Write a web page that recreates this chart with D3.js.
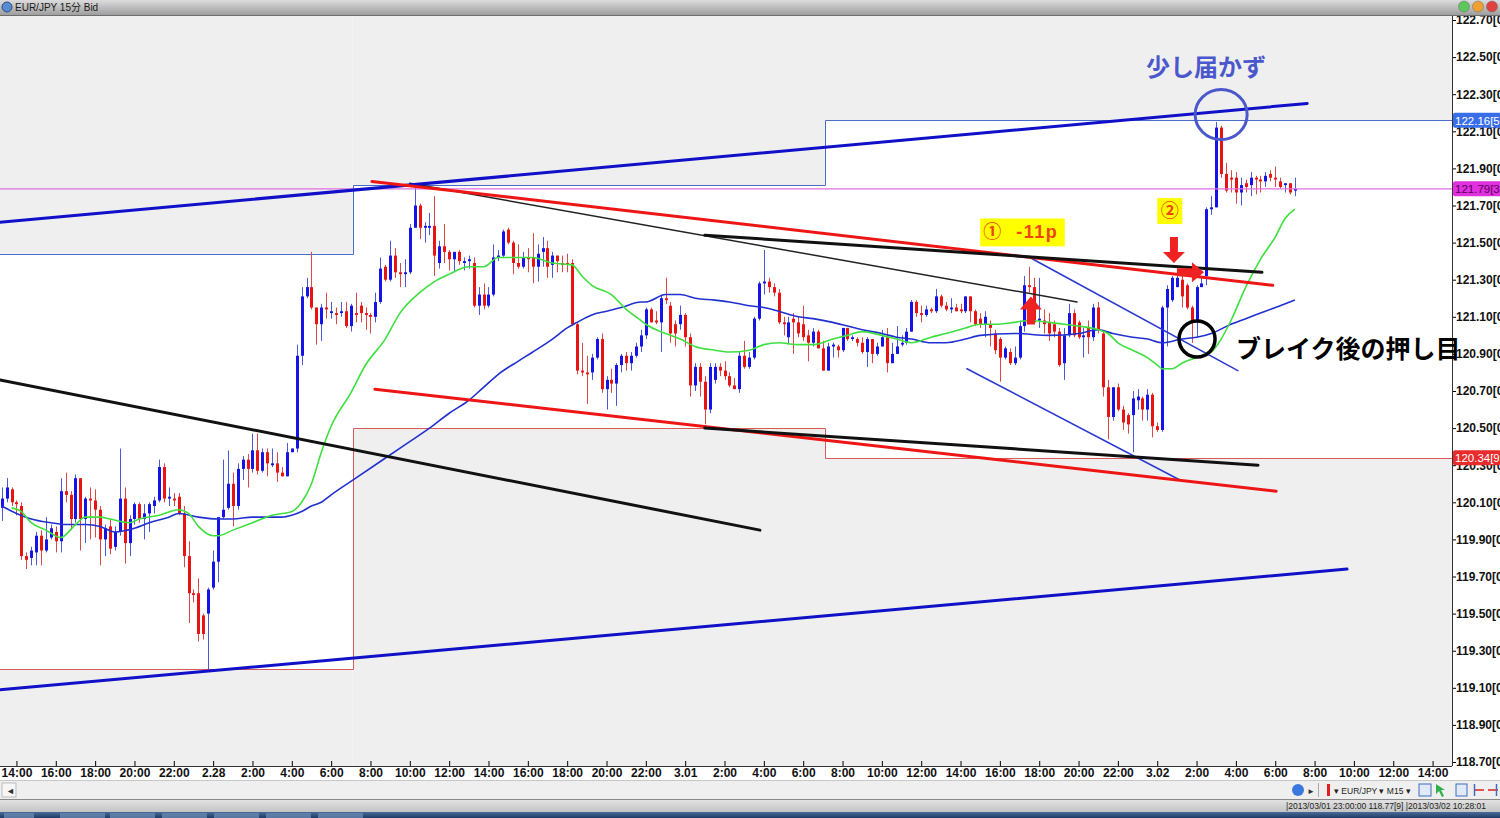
<!DOCTYPE html>
<html><head><meta charset="utf-8">
<script src="https://cdn.jsdelivr.net/npm/d3@7"></script>
<style>html,body{margin:0;padding:0;background:#fff;overflow:hidden}</style>
</head><body><svg id="c" width="1500" height="818"></svg>
<script>
// ---------------- DATA ----------------
// 15-minute bars, EUR/JPY, first bar = 2/27 13:15; each row = [open, high, low, close]
const ohlc = [
[120.07,120.18,120.00,120.12],[120.12,120.23,120.10,120.18],[120.17,120.18,120.08,120.10],[120.10,120.11,120.03,120.09],
[120.08,120.10,119.79,119.81],[119.81,119.83,119.74,119.79],[119.80,119.86,119.76,119.84],[119.83,119.94,119.76,119.92],
[119.92,119.95,119.76,119.84],[119.84,120.02,119.83,119.90],[119.91,119.98,119.90,119.96],[119.94,119.97,119.83,119.89],
[119.89,120.23,119.83,120.16],[120.16,120.26,120.10,120.14],[120.14,120.16,119.95,120.01],[120.01,120.25,119.99,120.23],
[120.23,120.23,119.84,120.01],[120.01,120.13,119.88,120.12],[120.12,120.18,119.90,120.11],[120.11,120.17,119.91,120.06],
[120.06,120.08,119.76,119.90],[119.90,119.98,119.81,119.96],[119.97,120.01,119.82,119.85],[119.86,119.97,119.84,119.94],
[119.94,120.39,119.92,120.12],[120.12,120.18,119.77,119.88],[119.88,120.03,119.81,120.01],[120.01,120.10,119.98,120.09],
[120.09,120.10,119.99,120.01],[120.01,120.09,119.90,120.04],[120.04,120.10,119.94,120.09],[120.08,120.13,120.04,120.11],
[120.11,120.33,120.10,120.29],[120.29,120.31,120.10,120.12],[120.12,120.18,120.08,120.13],[120.12,120.15,120.08,120.11],
[120.13,120.15,120.03,120.04],[120.04,120.08,119.75,119.81],[119.81,119.89,119.45,119.61],[119.61,119.63,119.56,119.60],
[119.61,119.69,119.35,119.39],[119.49,119.50,119.36,119.39],[119.50,119.64,119.20,119.63],[119.64,119.84,119.63,119.78],
[119.78,120.02,119.67,120.02],[120.02,120.33,120.01,120.06],[120.07,120.38,120.06,120.20],[120.20,120.26,119.97,120.08],
[120.08,120.31,120.06,120.28],[120.28,120.35,120.22,120.33],[120.33,120.36,120.18,120.28],[120.28,120.47,120.26,120.38],
[120.38,120.47,120.25,120.27],[120.27,120.39,120.26,120.37],[120.37,120.39,120.24,120.31],[120.30,120.39,120.29,120.31],
[120.31,120.37,120.21,120.26],[120.26,120.29,120.24,120.24],[120.24,120.42,120.24,120.37],[120.37,120.39,120.37,120.39],
[120.39,120.95,120.37,120.89],[120.89,121.26,120.84,121.21],[121.21,121.31,121.20,121.26],[121.26,121.45,121.14,121.15],
[121.15,121.15,120.95,121.06],[121.06,121.17,120.97,121.15],[121.15,121.23,121.09,121.14],[121.12,121.18,121.09,121.13],
[121.12,121.15,121.06,121.11],[121.12,121.18,121.10,121.13],[121.13,121.18,121.04,121.05],[121.05,121.17,121.02,121.16],
[121.12,121.23,121.07,121.11],[121.16,121.18,121.07,121.12],[121.12,121.15,121.03,121.11],[121.11,121.12,121.01,121.10],
[121.10,121.23,121.07,121.18],[121.18,121.42,121.17,121.36],[121.37,121.38,121.29,121.30],[121.30,121.51,121.29,121.43],
[121.43,121.47,121.31,121.34],[121.34,121.39,121.26,121.33],[121.33,121.41,121.26,121.34],[121.34,121.60,121.33,121.58],
[121.58,121.80,121.58,121.70],[121.70,121.71,121.52,121.58],[121.58,121.61,121.50,121.59],[121.58,121.66,121.54,121.59],
[121.59,121.75,121.32,121.43],[121.39,121.51,121.36,121.48],[121.48,121.60,121.39,121.45],[121.45,121.46,121.35,121.41],
[121.41,121.45,121.34,121.45],[121.45,121.46,121.38,121.40],[121.39,121.42,121.35,121.40],[121.40,121.43,121.36,121.41],
[121.39,121.42,121.15,121.16],[121.16,121.26,121.11,121.22],[121.22,121.28,121.14,121.16],[121.16,121.26,121.15,121.22],
[121.22,121.49,121.21,121.42],[121.42,121.46,121.40,121.43],[121.43,121.57,121.42,121.56],[121.57,121.58,121.49,121.50],
[121.50,121.51,121.33,121.39],[121.39,121.49,121.36,121.37],[121.37,121.45,121.36,121.42],[121.42,121.47,121.34,121.41],
[121.42,121.55,121.28,121.37],[121.37,121.49,121.29,121.44],[121.45,121.53,121.37,121.47],[121.47,121.51,121.31,121.37],
[121.38,121.45,121.31,121.43],[121.43,121.43,121.34,121.40],[121.39,121.43,121.34,121.38],[121.39,121.44,121.34,121.38],
[121.39,121.41,121.05,121.06],[121.06,121.07,120.79,120.81],[120.81,120.96,120.78,120.80],[120.80,120.89,120.63,120.79],
[120.80,120.90,120.76,120.88],[120.88,120.99,120.87,120.98],[120.98,121.01,120.69,120.71],[120.71,120.78,120.60,120.76],
[120.76,120.82,120.69,120.74],[120.74,120.85,120.62,120.84],[120.84,120.90,120.80,120.89],[120.89,120.91,120.81,120.85],
[120.85,120.91,120.81,120.89],[120.89,120.96,120.88,120.94],[120.94,121.03,120.91,121.00],[121.00,121.15,120.98,121.14],
[121.14,121.15,121.07,121.07],[121.08,121.13,121.06,121.07],[121.07,121.22,120.91,121.20],[121.20,121.31,121.17,121.19],
[121.16,121.18,120.96,121.01],[121.06,121.08,120.94,121.01],[121.06,121.16,121.03,121.11],[121.11,121.12,120.94,120.99],
[120.99,121.01,120.67,120.73],[120.73,120.85,120.70,120.83],[120.83,120.85,120.67,120.75],[120.75,120.78,120.52,120.60],
[120.60,120.85,120.58,120.83],[120.76,120.85,120.74,120.83],[120.83,120.85,120.78,120.81],[120.81,120.86,120.76,120.78],
[120.78,120.80,120.72,120.73],[120.73,120.77,120.71,120.71],[120.71,120.91,120.69,120.89],[120.89,120.97,120.82,120.83],
[120.83,120.91,120.82,120.88],[120.88,121.10,120.87,121.09],[121.09,121.29,121.08,121.28],[121.28,121.46,121.22,121.29],
[121.29,121.31,121.23,121.26],[121.26,121.28,121.21,121.23],[121.23,121.25,121.06,121.07],[121.07,121.10,121.00,121.06],
[120.99,121.10,120.95,121.07],[121.09,121.12,120.90,121.07],[121.07,121.10,120.99,121.01],[121.06,121.16,120.97,120.99],
[121.00,121.03,120.86,120.96],[120.96,121.04,120.94,121.02],[121.02,121.03,120.93,120.93],[120.93,120.97,120.81,120.81],
[120.81,120.96,120.81,120.94],[120.94,120.96,120.88,120.95],[120.94,120.95,120.88,120.92],[120.92,121.04,120.91,121.04],
[121.04,121.04,120.97,120.98],[120.98,121.00,120.97,120.99],[120.98,120.99,120.94,120.96],[120.96,120.99,120.90,120.91],
[120.91,120.99,120.83,120.98],[120.98,120.98,120.85,120.90],[120.90,120.96,120.89,120.94],[120.94,121.03,120.94,120.99],
[120.99,121.04,120.80,120.85],[120.85,120.96,120.85,120.90],[120.90,121.05,120.90,120.94],[120.95,121.00,120.94,120.96],
[120.96,121.04,120.95,121.02],[121.02,121.19,121.02,121.18],[121.18,121.19,121.10,121.12],[121.12,121.16,121.07,121.11],
[121.11,121.16,121.10,121.14],[121.14,121.15,121.12,121.13],[121.13,121.25,121.12,121.21],[121.21,121.22,121.15,121.16],
[121.16,121.18,121.13,121.14],[121.14,121.20,121.12,121.15],[121.15,121.17,121.13,121.13],[121.14,121.17,121.12,121.13],
[121.13,121.21,121.12,121.21],[121.21,121.21,121.07,121.13],[121.13,121.14,121.05,121.06],[121.09,121.12,121.04,121.06],
[121.06,121.13,120.99,121.10],[121.06,121.08,120.94,121.04],[121.01,121.03,120.90,120.92],[120.98,120.99,120.75,120.88],
[120.88,120.94,120.87,120.93],[120.91,120.93,120.84,120.85],[120.85,120.94,120.84,120.88],[120.88,121.08,120.87,121.05],
[121.05,121.32,121.02,121.27],[121.27,121.37,121.23,121.26],[121.26,121.31,121.06,121.07],[121.08,121.31,121.04,121.09],
[121.08,121.14,121.01,121.06],[121.07,121.12,120.97,121.01],[121.06,121.08,120.99,121.02],[121.02,121.04,120.83,120.84],
[120.85,121.04,120.76,121.00],[121.00,121.17,120.99,121.12],[121.12,121.14,120.99,121.00],[121.07,121.08,120.98,120.99],
[120.99,121.04,120.88,121.00],[121.04,121.08,120.90,120.99],[120.99,121.17,120.97,121.15],[121.15,121.18,121.01,121.03],
[121.01,121.03,120.67,120.72],[120.72,120.76,120.44,120.56],[120.56,120.72,120.54,120.72],[120.72,120.74,120.59,120.60],
[120.60,120.62,120.49,120.53],[120.57,120.58,120.47,120.52],[120.57,120.70,120.37,120.66],[120.65,120.71,120.60,120.67],
[120.66,120.67,120.54,120.60],[120.60,120.71,120.54,120.68],[120.68,120.69,120.45,120.51],[120.51,120.53,120.48,120.49],
[120.49,121.16,120.48,121.15],[121.15,121.27,120.94,121.25],[121.19,121.32,121.18,121.31],[121.26,121.33,121.26,121.31],
[121.30,121.33,121.15,121.21],[121.27,121.28,121.14,121.15],[121.15,121.16,120.96,121.08],[121.08,121.27,120.99,121.26],
[121.26,121.31,121.26,121.28],[121.32,121.69,121.27,121.68],[121.68,121.75,121.65,121.69],[121.69,122.15,121.69,122.12],
[122.12,122.13,121.85,121.87],[121.87,121.93,121.77,121.78],[121.85,121.89,121.77,121.84],[121.85,121.88,121.71,121.77],
[121.77,121.85,121.70,121.81],[121.82,121.84,121.77,121.80],[121.81,121.88,121.75,121.85],[121.85,121.86,121.76,121.84],
[121.84,121.86,121.77,121.83],[121.83,121.88,121.80,121.86],[121.87,121.89,121.83,121.85],[121.85,121.91,121.80,121.84],
[121.83,121.85,121.79,121.80],[121.81,121.82,121.77,121.82],[121.82,121.82,121.76,121.77],[121.78,121.85,121.75,121.79]
];

// moving averages: [bar index, price]
const maFast = [[2,120.07],[4,120.05],[6,119.99],[9,119.95],[12,119.91],[15,119.98],[17,120.02],[20,120.02],[22,120.01],[26,119.99],[28,120.01],[32,120.03],[36,120.06],[38,120.04],[40,119.97],[43,119.92],[44,119.92],[47,119.95],[51,119.99],[55,120.03],[59,120.05],[61,120.10],[63,120.20],[65,120.37],[67,120.51],[71,120.69],[74,120.84],[78,120.98],[81,121.12],[85,121.23],[88,121.29],[91,121.33],[95,121.37],[98,121.37],[101,121.42],[105,121.42],[108,121.42],[112,121.39],[116,121.38],[118,121.32],[120,121.27],[124,121.22],[127,121.14],[130,121.08],[131,121.06],[135,121.01],[138,120.98],[141,120.94],[145,120.92],[148,120.91],[152,120.92],[155,120.95],[158,120.96],[162,120.95],[165,120.95],[169,120.98],[172,121.00],[175,121.02],[179,121.00],[182,120.98],[185,120.96],[189,120.99],[192,121.01],[196,121.04],[199,121.06],[202,121.06],[206,121.07],[209,121.08],[213,121.07],[216,121.06],[219,121.05],[223,121.03],[225,121.01],[227,120.96],[230,120.92],[233,120.88],[235,120.84],[236,120.82],[238,120.82],[240,120.85],[243,120.88],[246,120.91],[248,120.98],[250,121.08],[253,121.26],[256,121.41],[259,121.53],[261,121.63],[263,121.68]];
const maSlow = [[0,120.08],[3,120.04],[6,120.01],[10,119.99],[13,119.98],[17,119.98],[20,119.97],[23,119.94],[27,119.96],[30,119.99],[34,120.02],[36,120.04],[40,120.02],[44,120.01],[47,120.01],[51,120.02],[54,120.02],[57,120.02],[59,120.03],[61,120.05],[63,120.08],[65,120.10],[67,120.14],[72,120.23],[77,120.32],[82,120.41],[87,120.50],[91,120.58],[95,120.65],[98,120.72],[101,120.79],[105,120.86],[108,120.91],[112,120.98],[115,121.04],[117,121.07],[120,121.11],[123,121.13],[126,121.15],[130,121.18],[131,121.18],[135,121.22],[138,121.22],[141,121.20],[145,121.19],[148,121.18],[152,121.16],[155,121.15],[158,121.13],[162,121.10],[165,121.09],[169,121.07],[172,121.05],[175,121.03],[179,121.01],[182,120.99],[185,120.98],[189,120.96],[192,120.96],[196,120.98],[199,121.00],[206,121.01],[213,121.00],[219,121.01],[223,121.03],[226,121.01],[230,120.99],[233,120.98],[236,120.96],[240,120.98],[243,120.99],[246,121.01],[250,121.06],[253,121.09],[257,121.13],[260,121.16],[263,121.19]];

// x axis: tick every 8 bars (2 hours), starting at bar 3 (2/27 14:00)
const xTickLabels = ["14:00","16:00","18:00","20:00","22:00","2.28","2:00","4:00","6:00","8:00","10:00","12:00","14:00","16:00","18:00","20:00","22:00","3.01","2:00","4:00","6:00","8:00","10:00","12:00","14:00","16:00","18:00","20:00","22:00","3.02","2:00","4:00","6:00","8:00","10:00","12:00","14:00"];
const yTickValues = d3.range(0,21).map(i => +(118.70 + i*0.20).toFixed(2));

// zones (bar start, bar end, price edge)
const zonesHigh = [[-5,71.4,121.44],[71.4,167.4,121.81],[167.4,400,122.16]];
const zonesLow  = [[-5,71.4,119.20],[71.4,167.4,120.50],[167.4,400,120.34]];
const hLinePrice = 121.79;
const priceTags = [[122.16,"122.16[5]"],[121.79,"121.79[3]"],[120.34,"120.34[9]"]];

// trend lines: [[bar, price],[bar, price]]
const chanTop      = [[-0.35,121.61],[265.5,122.25]];
const chanBottom   = [[-0.35,119.09],[273.6,119.74]];
const blackLeft    = [[-0.35,120.76],[154.2,119.95]];
const blackThin    = [[83,121.82],[218.7,121.18]];
const redUpper     = [[75.3,121.83],[258.5,121.27]];
const blackUpper   = [[143,121.54],[256.3,121.34]];
const redLower     = [[75.9,120.71],[259.2,120.16]];
const blackLower   = [[143,120.50],[255.5,120.30]];
const blueThinA    = [[209.1,121.42],[251.4,120.81]];
const blueThinB    = [[196.3,120.82],[239.6,120.22]];

// annotations anchors [bar, price]
const blueCircle = [248.0,122.19];
const blackCircle = [243.1,120.98];
const arrowDown = [238.4,121.39];
const arrowRight = [244.5,121.34];
const arrowUp = [209.3,121.21];
const noteTop = [232.7,122.40, "少し届かず"];
const noteBreak = [251.0,120.88, "ブレイク後の押し目"];
const box1 = [[199,121.63],[216.2,121.48]];
const box2 = [[235,121.74],[240.1,121.60]];

// ---------------- DRAW ----------------
const svg = d3.select('#c');
const plotR = 1452, plotT = 16, plotB = 766;
const x = d3.scaleLinear().domain([0,263]).range([1.7,1294.9]);
const y = d3.scaleLinear().domain([118.70,122.70]).range([762,20]);

const defs = svg.append('defs');
defs.append('clipPath').attr('id','plot').append('rect').attr('x',0).attr('y',plotT).attr('width',plotR).attr('height',plotB-plotT);
const tg = defs.append('linearGradient').attr('id','title').attr('x1',0).attr('x2',0).attr('y1',0).attr('y2',1);
tg.append('stop').attr('offset','0%').attr('stop-color','#dcdcdc');
tg.append('stop').attr('offset','100%').attr('stop-color','#9e9e9e');
const sg = defs.append('linearGradient').attr('id','status').attr('x1',0).attr('x2',0).attr('y1',0).attr('y2',1);
sg.append('stop').attr('offset','0%').attr('stop-color','#e4e4e4');
sg.append('stop').attr('offset','100%').attr('stop-color','#c4c4c4');
const bg = defs.append('linearGradient').attr('id','task').attr('x1',0).attr('x2',0).attr('y1',0).attr('y2',1);
bg.append('stop').attr('offset','0%').attr('stop-color','#4a6c98');
bg.append('stop').attr('offset','100%').attr('stop-color','#1d3a66');

svg.append('rect').attr('width',1500).attr('height',818).attr('fill','#ffffff');

const plot = svg.append('g').attr('clip-path','url(#plot)');
// zones: fills
plot.selectAll('.zh').data(zonesHigh).join('rect')
  .attr('x',d=>x(d[0])).attr('width',d=>x(d[1])-x(d[0]))
  .attr('y',-20).attr('height',d=>y(d[2])+20).attr('fill','#efefef');
plot.selectAll('.zl').data(zonesLow).join('rect')
  .attr('x',d=>x(d[0])).attr('width',d=>x(d[1])-x(d[0]))
  .attr('y',d=>y(d[2])).attr('height',d=>900-y(d[2])).attr('fill','#efefef');
// zones: stepped outline
const stepPath = zs => {
  let p = `M${x(zs[0][0])},${Math.round(y(zs[0][2]))+0.5}`;
  zs.forEach((z,i)=>{
    if(i>0) p += ` V${Math.round(y(z[2]))+0.5}`;
    p += ` H${Math.round(x(z[1]))+0.5}`;
  });
  return p;
};
plot.append('path').attr('d',stepPath(zonesHigh)).attr('fill','none').attr('stroke','#4b6bc8').attr('stroke-width',1);
plot.append('path').attr('d',stepPath(zonesLow)).attr('fill','none').attr('stroke','#d85a5a').attr('stroke-width',1);

// candles
const cg = plot.append('g');
const up = '#1414e8', dn = '#e81414';
cg.selectAll('line').data(ohlc).join('line')
  .attr('x1',(d,i)=>Math.round(x(i))+0.5).attr('x2',(d,i)=>Math.round(x(i))+0.5)
  .attr('y1',d=>y(d[1])).attr('y2',d=>y(d[2]))
  .attr('stroke',d=>d[3]>=d[0]?'#4a5ad8':'#dc4848').attr('stroke-width',1);
cg.selectAll('rect').data(ohlc).join('rect')
  .attr('x',(d,i)=>Math.round(x(i))-1).attr('width',3)
  .attr('y',d=>y(Math.max(d[0],d[3])))
  .attr('height',d=>Math.max(1.2,Math.abs(y(d[0])-y(d[3]))))
  .attr('fill',d=>d[3]>=d[0]?up:dn);

// moving averages
const ln = d3.line().x(d=>x(d[0])).y(d=>y(d[1])).curve(d3.curveMonotoneX);
plot.append('path').attr('d',ln(maSlow)).attr('fill','none').attr('stroke','#2030d0').attr('stroke-width',1.6);
plot.append('path').attr('d',ln(maFast)).attr('fill','none').attr('stroke','#3ee03e').attr('stroke-width',1.6);

// horizontal line
plot.append('line').attr('x1',0).attr('x2',plotR).attr('y1',y(hLinePrice)).attr('y2',y(hLinePrice))
  .attr('stroke','#e070e0').attr('stroke-width',1.2);

// trend lines
const seg = (pts,color,w) => plot.append('line')
  .attr('x1',x(pts[0][0])).attr('y1',y(pts[0][1])).attr('x2',x(pts[1][0])).attr('y2',y(pts[1][1]))
  .attr('stroke',color).attr('stroke-width',w).attr('stroke-linecap','round');
seg(blackThin,'#222222',1.5);
seg(blueThinA,'#2a3ad0',1.6);
seg(blueThinB,'#2a3ad0',1.6);
seg(chanTop,'#1010c8',3);
seg(chanBottom,'#1010c8',3);
seg(blackLeft,'#111111',3);
seg(redUpper,'#ee1515',3);
seg(redLower,'#ee1515',3);
seg(blackUpper,'#111111',3);
seg(blackLower,'#111111',3);

// annotations
const ann = plot.append('g');
ann.append('ellipse').attr('cx',x(blueCircle[0])).attr('cy',y(blueCircle[1])).attr('rx',26).attr('ry',25)
  .attr('fill','none').attr('stroke','#4a58cc').attr('stroke-width',3);
ann.append('circle').attr('cx',x(blackCircle[0])).attr('cy',y(blackCircle[1])).attr('r',18)
  .attr('fill','none').attr('stroke','#000').attr('stroke-width',3.5);
const ad = [x(arrowDown[0]), y(arrowDown[1])];
ann.append('path').attr('fill','#ee2222')
  .attr('d',`M${ad[0]},${ad[1]} l-11,-11 h7 v-15 h8 v15 h7 z`);
const ar = [x(arrowRight[0]), y(arrowRight[1])];
ann.append('path').attr('fill','#ee2222')
  .attr('d',`M${ar[0]},${ar[1]} l-12,-10 v6 h-15 v8 h15 v6 z`);
const au = [x(arrowUp[0]), y(arrowUp[1])];
ann.append('path').attr('fill','#ee2222')
  .attr('d',`M${au[0]},${au[1]} l-11,13 h7 v15 h8 v-15 h7 z`);

// yellow boxes
[box1,box2].forEach(b=>{
  ann.append('rect').attr('x',x(b[0][0])).attr('y',y(b[0][1]))
    .attr('width',x(b[1][0])-x(b[0][0])).attr('height',y(b[1][1])-y(b[0][1])).attr('fill','#ffff00');
});
const b1y = (y(box1[0][1])+y(box1[1][1]))/2;
ann.append('text').attr('x',x(box1[0][0])+3).attr('y',b1y+6).attr('fill','#ee4411')
  .attr('font-family','Noto Sans CJK JP').attr('font-size',18).attr('font-weight','bold').text('①');
ann.append('text').attr('x',x(box1[0][0])+36).attr('y',b1y+6).attr('fill','#ee4411')
  .attr('font-family','Liberation Sans, Arial').attr('font-size',18).attr('font-weight','bold')
  .attr('letter-spacing',1.5).text('-11p');
ann.append('text').attr('x',(x(box2[0][0])+x(box2[1][0]))/2).attr('y',(y(box2[0][1])+y(box2[1][1]))/2+6)
  .attr('text-anchor','middle').attr('fill','#ee4411')
  .attr('font-family','Noto Sans CJK JP').attr('font-size',18).attr('font-weight','bold').text('②');

// right axis
const yAxis = d3.axisRight(y).tickValues(yTickValues).tickSizeInner(4).tickSizeOuter(0)
  .tickFormat(d=>d.toFixed(2)+'[0');
const ya = svg.append('g').attr('transform',`translate(${plotR},0)`).call(yAxis);
ya.select('.domain').remove();
ya.selectAll('line').attr('stroke','#000');
ya.selectAll('text').attr('x',4).attr('font-family','Liberation Sans, Arial').attr('font-size',12)
  .attr('font-weight','bold').attr('fill','#111');
svg.append('line').attr('x1',plotR+0.5).attr('x2',plotR+0.5).attr('y1',plotT).attr('y2',plotB).attr('stroke','#333');

// price tags
const tagFill = ['#3a6ee8','#e030e0','#e82c2c'];
const tagText = ['#ffffff','#5a005a','#ffffff'];
const tags = svg.append('g');
priceTags.forEach((t,i)=>{
  tags.append('rect').attr('x',plotR+1).attr('y',y(t[0])-7.5).attr('width',50).attr('height',15).attr('fill',tagFill[i]).attr('rx',2);
  tags.append('text').attr('x',plotR+3).attr('y',y(t[0])+4.5).attr('fill',tagText[i])
    .attr('font-family','Liberation Sans, Arial').attr('font-size',11.5).text(t[1].slice(0,8));
});

// bottom axis
const xTicks = xTickLabels.map((l,j)=>3+8*j);
const xAxis = d3.axisBottom(x).tickValues(xTicks).tickSizeInner(-5).tickSizeOuter(0).tickPadding(2)
  .tickFormat((d,i)=>xTickLabels[i]);
const xa = svg.append('g').attr('transform',`translate(0,${plotB})`).call(xAxis);
xa.select('.domain').remove();
xa.selectAll('line').attr('stroke','#000');
xa.selectAll('text').attr('font-family','Liberation Sans, Arial').attr('font-size',12)
  .attr('font-weight','bold').attr('fill','#111');
svg.append('line').attr('x1',0).attr('x2',plotR).attr('y1',plotB+0.5).attr('y2',plotB+0.5).attr('stroke','#333');

// notes
svg.append('text').attr('x',x(noteTop[0])).attr('y',y(noteTop[1])).attr('fill','#4a58cc')
  .attr('font-family','Noto Sans CJK JP').attr('font-size',24).attr('font-weight','bold').text(noteTop[2]);
svg.append('text').attr('x',x(noteBreak[0])).attr('y',y(noteBreak[1])).attr('fill','#000')
  .attr('font-family','Noto Sans CJK JP').attr('font-size',25).attr('font-weight','bold').text(noteBreak[2]);

// title bar
svg.append('rect').attr('x',0).attr('y',0).attr('width',1500).attr('height',15).attr('fill','url(#title)');
svg.append('line').attr('x1',0).attr('x2',1500).attr('y1',15.5).attr('y2',15.5).attr('stroke','#6e6e6e');
svg.append('circle').attr('cx',7).attr('cy',7).attr('r',5).attr('fill','#5a8ad0').attr('stroke','#2a4a90');
svg.append('text').attr('x',15).attr('y',11).attr('font-family','Liberation Sans, Noto Sans CJK JP').attr('font-size',10)
  .attr('fill','#1a1a1a').text('EUR/JPY 15分 Bid');
[['#5cc85c',1464],['#f0a030',1478],['#e04040',1492]].forEach(c=>{
  svg.append('circle').attr('cx',c[1]).attr('cy',6.5).attr('r',5.5).attr('fill',c[0]).attr('stroke','#777').attr('stroke-width',0.6);
});

// scroll bar / toolbar
svg.append('rect').attr('x',0).attr('y',781).attr('width',1500).attr('height',18).attr('fill','#efefef');
svg.append('line').attr('x1',0).attr('x2',1500).attr('y1',780.5).attr('y2',780.5).attr('stroke','#c8c8c8');
svg.append('rect').attr('x',2).attr('y',783).attr('width',14).attr('height',14).attr('fill','#f6f6f6').attr('stroke','#bbb');
svg.append('text').attr('x',6).attr('y',794).attr('font-size',9).attr('fill','#333').text('◄');
svg.append('circle').attr('cx',1298).attr('cy',790).attr('r',6).attr('fill','#3a78e0');
svg.append('text').attr('x',1307).attr('y',794).attr('font-size',8).attr('fill','#333').text('►');
svg.append('line').attr('x1',1318.5).attr('x2',1318.5).attr('y1',783).attr('y2',797).attr('stroke','#aaa');
svg.append('rect').attr('x',1327).attr('y',784).attr('width',3).attr('height',12).attr('fill','#e02020');
svg.append('text').attr('x',1334).attr('y',794).attr('font-family','Liberation Sans, Arial').attr('font-size',8.5).attr('fill','#222')
  .text('▾  EUR/JPY ▾  M15 ▾');
svg.append('rect').attr('x',1419).attr('y',784).attr('width',12).attr('height',12).attr('fill','#dfe9f8').attr('stroke','#3a6fc0');
svg.append('path').attr('d','M1436,784 l9,6 h-4 l3,6 -2,1 -3,-6 -3,3 z').attr('fill','#2fb04a');
svg.append('rect').attr('x',1456).attr('y',784).attr('width',11).attr('height',12).attr('fill','#dfe9f8').attr('stroke','#3a6fc0');
svg.append('line').attr('x1',1474).attr('x2',1484).attr('y1',790).attr('y2',790).attr('stroke','#e02020').attr('stroke-width',1.5);
svg.append('line').attr('x1',1474.5).attr('x2',1474.5).attr('y1',784).attr('y2',796).attr('stroke','#3a6fc0').attr('stroke-width',1.5);
svg.append('line').attr('x1',1488).attr('x2',1498).attr('y1',790).attr('y2',790).attr('stroke','#e02020').attr('stroke-width',1.5);
svg.append('line').attr('x1',1496.5).attr('x2',1496.5).attr('y1',784).attr('y2',796).attr('stroke','#3a6fc0').attr('stroke-width',1.5);

// status bar
svg.append('rect').attr('x',0).attr('y',799).attr('width',1500).attr('height',13).attr('fill','url(#status)');
svg.append('line').attr('x1',0).attr('x2',1500).attr('y1',799.5).attr('y2',799.5).attr('stroke','#888');
svg.append('text').attr('x',1286).attr('y',809).attr('font-family','Liberation Sans, Arial').attr('font-size',8.5).attr('fill','#222')
  .text('|2013/03/01 23:00:00  118.77[9]  |2013/03/02 10:28:01');

// taskbar
svg.append('rect').attr('x',0).attr('y',812).attr('width',1500).attr('height',6).attr('fill','url(#task)');
[[4,30],[60,45],[110,45],[162,45],[214,45],[266,45],[318,45]].forEach(b=>{
  svg.append('rect').attr('x',b[0]).attr('y',813).attr('width',b[1]).attr('height',5).attr('fill','#6f8fb8').attr('opacity',0.7);
});
</script></body></html>
